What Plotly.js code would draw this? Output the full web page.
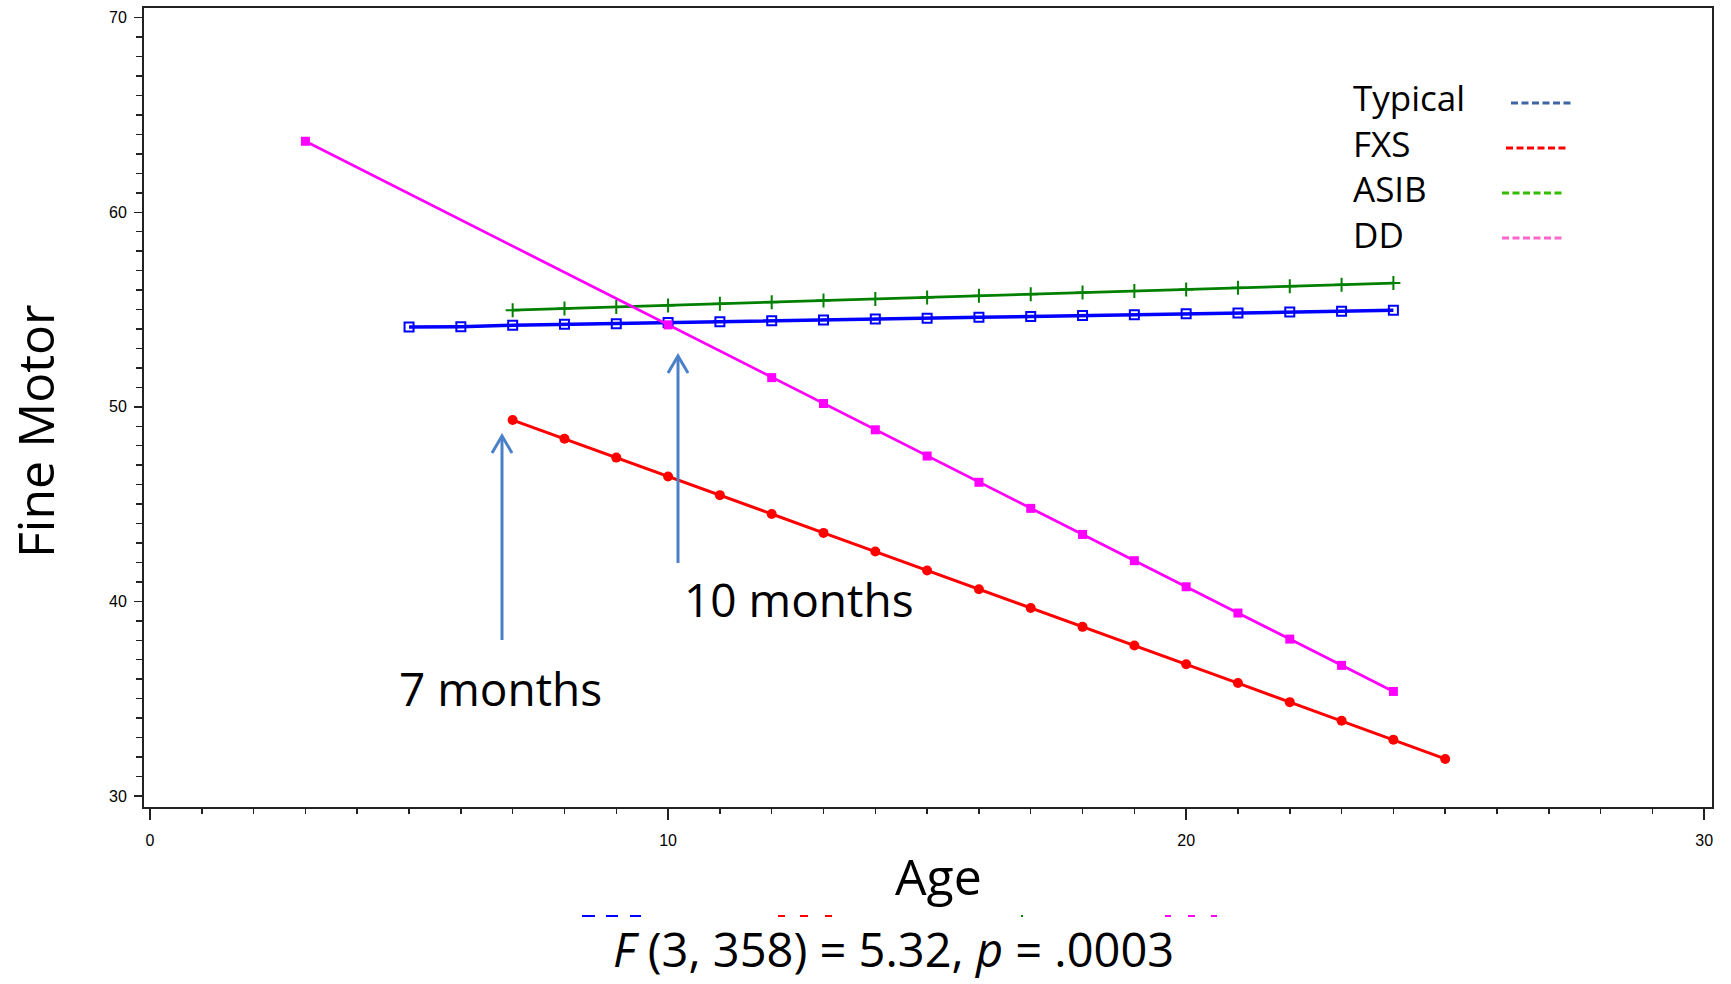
<!DOCTYPE html>
<html>
<head>
<meta charset="utf-8">
<script src="https://cdn.plot.ly/plotly-3.0.1.min.js"></script>
<style>html,body{margin:0;padding:0;background:#fff;}#chart{width:1731px;height:984px;}</style>
</head>
<body>
<div id="chart"></div>
<script>
// ---- Data ----
const typicalAge = [5,6,7,8,9,10,11,12,13,14,15,16,17,18,19,20,21,22,23,24];
const typicalFM  = [54.10,54.12,54.19,54.24,54.27,54.33,54.37,54.42,54.46,54.51,54.55,54.60,54.64,54.69,54.73,54.78,54.82,54.87,54.91,54.96];

const fxsAge = [7,8,9,10,11,12,13,14,15,16,17,18,19,20,21,22,23,24,25];
const fxsFM  = [49.32,48.36,47.39,46.42,45.46,44.49,43.52,42.56,41.59,40.62,39.66,38.69,37.73,36.77,35.80,34.82,33.86,32.89,31.90];

const asibAge = [7,8,9,10,11,12,13,14,15,16,17,18,19,20,21,22,23,24];
const asibFM  = [54.97,55.05,55.13,55.21,55.30,55.38,55.46,55.54,55.62,55.71,55.79,55.87,55.95,56.03,56.12,56.20,56.28,56.36];

const ddAge = [3,10,12,13,14,15,16,17,18,19,20,21,22,23,24];
const ddFM  = [63.65,54.21,51.50,50.17,48.82,47.47,46.12,44.78,43.44,42.09,40.75,39.40,38.06,36.71,35.37];

const legendLabels = ["Typical","FXS","ASIB","DD"];
const legendColors = ["#3E66A6","#FF0000","#33BB00","#FF66CC"];
const xTicks = [0,10,20,30];
const yTicks = [30,40,50,60,70];

// ---- Layout geometry ----
const W = 1731, H = 984;
const M = {l:144, r:19, t:8, b:177};
const PW = W - M.l - M.r, PH = H - M.t - M.b;
const xr = [-0.116, 30.15], yr = [29.43, 70.5];
const px = X => (X - M.l) / PW;          // page px -> paper x
const py = Y => (H - M.b - Y) / PH;      // page px -> paper y
const dx = X => xr[0] + (X - M.l) / PW * (xr[1]-xr[0]);   // page px -> data x
const dy = Y => yr[0] + (H - M.b - Y) / PH * (yr[1]-yr[0]); // page px -> data y

const FONT = "Open Sans, Lato, DejaVu Sans, sans-serif";

const traces = [
  {x: typicalAge, y: typicalFM, mode:"lines+markers", name:"Typical",
   line:{color:"#0000FF", width:3.5},
   marker:{symbol:"square-open", size:9, color:"#0000FF", line:{width:2, color:"#0000FF"}}},
  {x: asibAge, y: asibFM, mode:"lines+markers", name:"ASIB",
   line:{color:"#008000", width:2.7},
   marker:{symbol:"cross-thin-open", size:10, color:"#008000", line:{width:2, color:"#008000"}}},
  {x: fxsAge, y: fxsFM, mode:"lines+markers", name:"FXS",
   line:{color:"#FF0000", width:3},
   marker:{symbol:"circle", size:10, color:"#FF0000"}},
  {x: ddAge, y: ddFM, mode:"lines+markers", name:"DD",
   line:{color:"#FF00FF", width:2.8},
   marker:{symbol:"square", size:9, color:"#FF00FF"}}
];

const shapes = [];
const annotations = [];

// arrows (shaft + open chevron head), given in page px
function arrow(X, yTip, yTail){
  const c = "#4A80C8";
  shapes.push({type:"line", xref:"x", yref:"y", x0:dx(X), x1:dx(X), y0:dy(yTail), y1:dy(yTip+1),
               line:{color:c, width:3}});
  shapes.push({type:"path", xref:"x", yref:"y",
               path:`M ${dx(X-10)},${dy(yTip+17)} L ${dx(X)},${dy(yTip)} L ${dx(X+10)},${dy(yTip+17)}`,
               line:{color:c, width:3}});
}
arrow(502, 436, 640);
arrow(678, 356, 563);

// custom legend: text block then dashed sample lines
const legY = [100,145,190,235];
const legX0 = [1511,1506,1502,1502];
annotations.push({xref:"paper", yref:"paper", x:px(1351), y:py(166), xanchor:"left", yanchor:"middle",
  align:"left", text:legendLabels.join("<br>"), showarrow:false,
  font:{family:FONT, size:35, color:"#000"}});
legendLabels.forEach((lab,i)=>{
  shapes.push({type:"line", xref:"paper", yref:"paper", x0:px(legX0[i]), x1:px(legX0[i]+60),
    y0:py(legY[i]+3), y1:py(legY[i]+3), line:{color:legendColors[i], width:3, dash:"7px,3.5px"}});
});

// cut-off legend remnants under the axis title
const remY = 916;
const remSegs = [
  ["#0000FF",[[582,595],[606,618],[630,641]]],
  ["#FF0000",[[778,785],[800,808],[825,832]]],
  ["#008000",[[1021,1023]]],
  ["#FF00FF",[[1165,1171],[1188,1195],[1211,1217]]]
];
remSegs.forEach(([c,segs])=>segs.forEach(([a,b])=>{
  shapes.push({type:"line", xref:"paper", yref:"paper", x0:px(a), x1:px(b), y0:py(remY), y1:py(remY),
    line:{color:c, width:2}});
}));

// titles and notes
annotations.push({xref:"paper", yref:"paper", x:px(35), y:py(431), text:"Fine Motor", textangle:-90,
  showarrow:false, xanchor:"center", yanchor:"middle", font:{family:FONT, size:50, color:"#000"}});
annotations.push({xref:"paper", yref:"paper", x:px(938), y:py(876), text:"Age",
  showarrow:false, xanchor:"center", yanchor:"middle", font:{family:FONT, size:50, color:"#000"}});
annotations.push({xref:"paper", yref:"paper", x:px(500), y:py(688), text:"7 months",
  showarrow:false, xanchor:"center", yanchor:"middle", font:{family:FONT, size:46, color:"#000"}});
annotations.push({xref:"paper", yref:"paper", x:px(799), y:py(599), text:"10 months",
  showarrow:false, xanchor:"center", yanchor:"middle", font:{family:FONT, size:46, color:"#000"}});
annotations.push({xref:"paper", yref:"paper", x:px(893), y:py(949),
  text:"<i>F</i> (3, 358) = 5.32, <i>p</i> = .0003",
  showarrow:false, xanchor:"center", yanchor:"middle", font:{family:FONT, size:47, color:"#000"}});

const layout = {
  width:W, height:H, margin:M, showlegend:false,
  paper_bgcolor:"#fff", plot_bgcolor:"#fff",
  xaxis:{range:xr, tickvals:xTicks, ticktext:xTicks.map(String), ticks:"outside", ticklen:11, tickwidth:1.5,
    tickcolor:"#222", showgrid:false, zeroline:false, showline:true, mirror:true, linecolor:"#222", linewidth:2,
    tickfont:{family:"Liberation Sans, Arial, sans-serif", size:16, color:"#000"}, ticklabelstandoff:7,
    minor:{dtick:1, ticks:"outside", ticklen:5, tickwidth:1.5, tickcolor:"#222", showgrid:false}},
  yaxis:{range:yr, tickvals:yTicks, ticktext:yTicks.map(String), ticks:"outside", ticklen:8, tickwidth:1.5,
    tickcolor:"#222", showgrid:false, zeroline:false, showline:true, mirror:true, linecolor:"#222", linewidth:2,
    tickfont:{family:"Liberation Sans, Arial, sans-serif", size:16, color:"#000"}, ticklabelstandoff:4,
    minor:{dtick:1, ticks:"outside", ticklen:6, tickwidth:1.5, tickcolor:"#222", showgrid:false}},
  shapes:shapes, annotations:annotations
};

Plotly.newPlot("chart", traces, layout, {displayModeBar:false, staticPlot:true});
</script>
</body>
</html>
